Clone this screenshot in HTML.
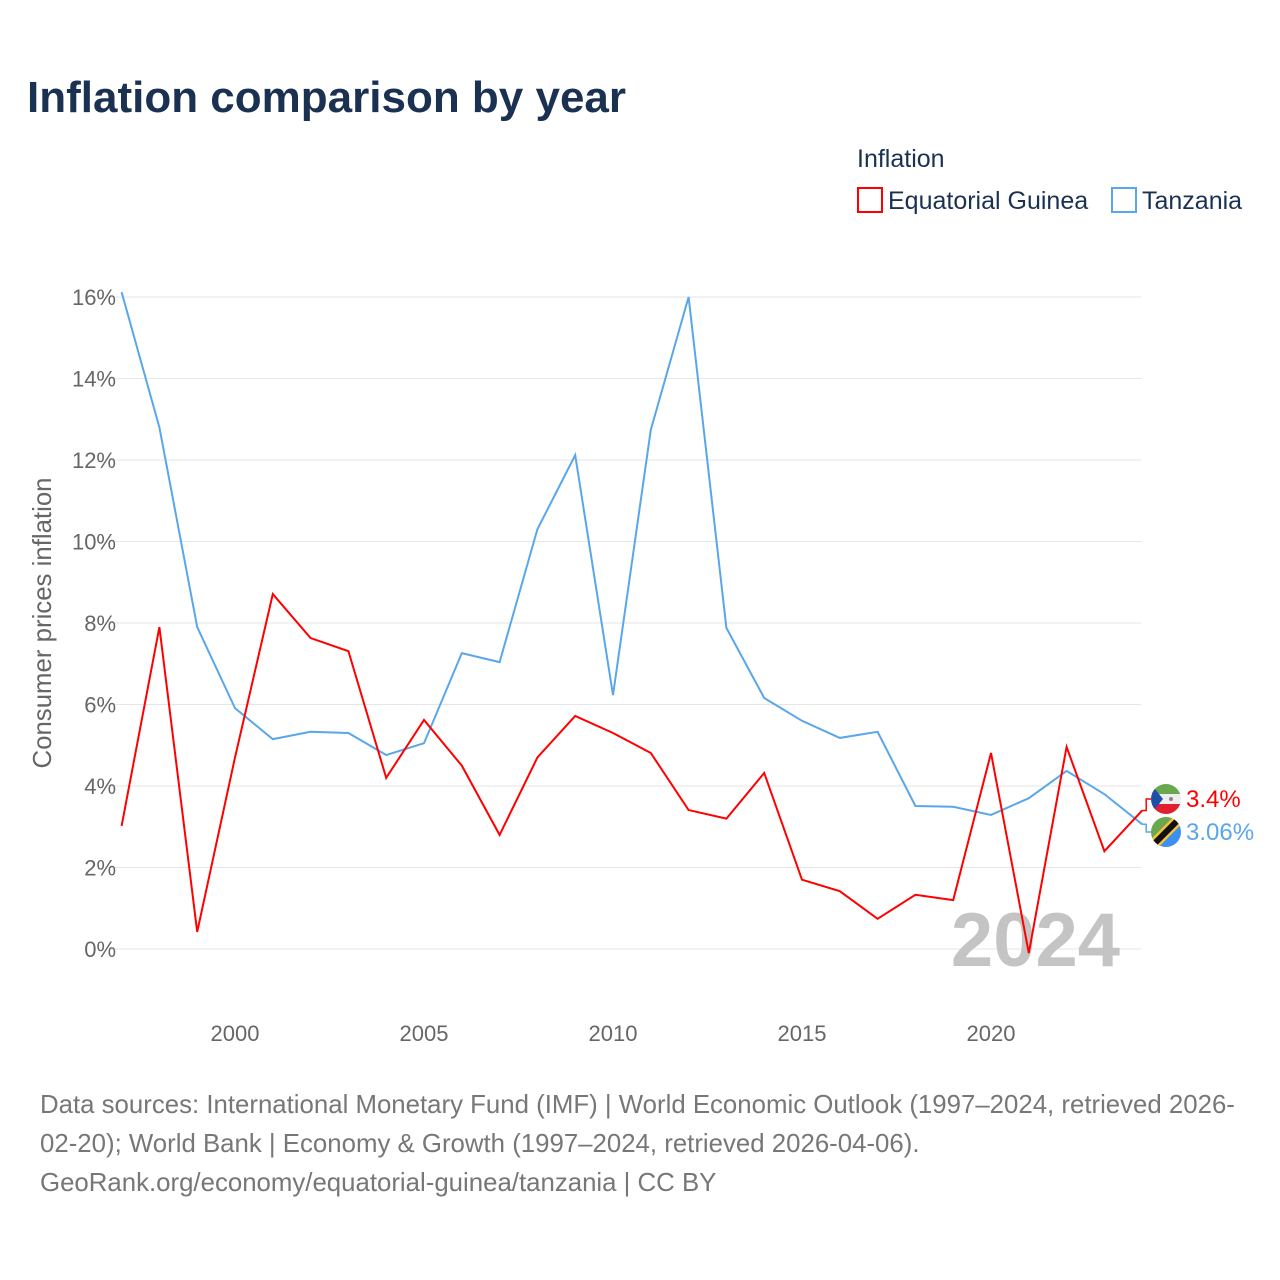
<!DOCTYPE html>
<html><head><meta charset="utf-8">
<style>
body{margin:0;background:#fff;font-family:"Liberation Sans",sans-serif;}
#wrap{position:relative;width:1280px;height:1280px;overflow:hidden;}
</style></head>
<body>
<div id="wrap">
<svg id="chart" width="1280" height="1280" style="position:absolute;left:0;top:0">
  <text x="27" y="112" font-size="44" font-weight="bold" fill="#1b3152">Inflation comparison by year</text>
  <text x="857" y="167" font-size="25" fill="#1b3152">Inflation</text>
  <g>
    <rect x="858" y="188" width="24" height="24" fill="#fff" stroke="#f00" stroke-width="2"/>
    <text x="888" y="209" font-size="25" fill="#1b3152">Equatorial Guinea</text>
  </g>
  <g>
    <rect x="1112" y="188" width="24" height="24" fill="#fff" stroke="#5aa6ea" stroke-width="2"/>
    <text x="1142" y="209" font-size="25" fill="#1b3152">Tanzania</text>
  </g>
  <text transform="translate(51,623) rotate(-90)" text-anchor="middle" font-size="25.8" fill="#666">Consumer prices inflation</text>
  <g id="grid"></g>
  <g id="xticks"></g>
  <text x="1120" y="966" text-anchor="end" font-size="76" font-weight="bold" fill="#c4c4c4">2024</text>
  <g id="series"></g>
  <g id="endlabels"></g>
  <text x="40" y="1113" font-size="25.8" fill="#777">Data sources: International Monetary Fund (IMF) | World Economic Outlook (1997–2024, retrieved 2026-</text>
  <text x="40" y="1152" font-size="25.8" fill="#777">02-20); World Bank | Economy &amp; Growth (1997–2024, retrieved 2026-04-06).</text>
  <text x="40" y="1191" font-size="25.8" fill="#777">GeoRank.org/economy/equatorial-guinea/tanzania | CC BY</text>
</svg>
</div>
<script>
const years = [1997,1998,1999,2000,2001,2002,2003,2004,2005,2006,2007,2008,2009,2010,2011,2012,2013,2014,2015,2016,2017,2018,2019,2020,2021,2022,2023,2024];
const guineaValues = [3.02,7.9,0.42,4.7,8.71,7.63,7.31,4.2,5.62,4.5,2.8,4.7,5.72,5.3,4.81,3.41,3.2,4.32,1.7,1.42,0.74,1.33,1.2,4.81,-0.1,4.96,2.4,3.4];
const tanzaniaValues = [16.12,12.8,7.9,5.91,5.15,5.33,5.3,4.76,5.05,7.26,7.04,10.3,12.12,6.23,12.74,16.0,7.88,6.16,5.6,5.18,5.33,3.51,3.49,3.29,3.7,4.37,3.8,3.06];
const yTicks = [0,2,4,6,8,10,12,14,16];
const xTicks = [2000,2005,2010,2015,2020];

const NS = "http://www.w3.org/2000/svg";
function x(yr){ return 121.6 + (yr-1997)*37.8; }
function y(v){ return 949 - v*40.75; }
function mk(tag, attrs, parent){ const e=document.createElementNS(NS,tag); for(const k in attrs) e.setAttribute(k,attrs[k]); parent.appendChild(e); return e; }

const grid=document.getElementById('grid');
yTicks.forEach(t=>{
  const l=mk('line',{x1:110,x2:1141,y1:y(t),y2:y(t),stroke:'#e6e6e6','stroke-width':1},grid);
  
  
  const tx=mk('text',{x:116,y:y(t)+8,'text-anchor':'end','font-size':22,fill:'#666'},grid);
  tx.textContent=t+'%';
  
  
});
const xt=document.getElementById('xticks');
xTicks.forEach(t=>{
  const tx=mk('text',{x:x(t),y:1041,'text-anchor':'middle','font-size':22,fill:'#666'},xt);
  tx.textContent=t;
  
  
});
const sg=document.getElementById('series');
function line(vals,color,name){
  const p=mk('polyline',{points:vals.map((v,i)=>x(years[i])+','+y(v)).join(' '),fill:'none',stroke:color,'stroke-width':2,'stroke-linejoin':'miter'},sg);
  
  
}
line(tanzaniaValues,'#5aa6ea','tanzania-line');
line(guineaValues,'#f00','equatorial-guinea-line');

const el=document.getElementById('endlabels');
const lx=x(2024);
const gv=guineaValues[guineaValues.length-1], tv=tanzaniaValues[tanzaniaValues.length-1];
mk('polyline',{points:`${lx},${y(gv)} ${lx+4},${y(gv)} ${lx+4},799 ${lx+12},799`,fill:'none',stroke:'#f00','stroke-width':1.5},el);
mk('polyline',{points:`${lx},${y(tv)} ${lx+4},${y(tv)} ${lx+4},832 ${lx+12},832`,fill:'none',stroke:'#5aa6ea','stroke-width':1.5},el);
const defs=mk('defs',{},el);
const c1=mk('clipPath',{id:'cEG'},defs); mk('circle',{cx:1166,cy:799,r:15},c1);
const c2=mk('clipPath',{id:'cTZ'},defs); mk('circle',{cx:1166,cy:832,r:15},c2);
const eg=mk('g',{'clip-path':'url(#cEG)'},el);


mk('rect',{x:1151,y:784,width:30,height:10,fill:'#6aa84f'},eg);
mk('rect',{x:1151,y:794,width:30,height:10,fill:'#eee'},eg);
mk('rect',{x:1151,y:804,width:30,height:10,fill:'#e0202e'},eg);
mk('polygon',{points:'1151,784 1163,799 1151,814',fill:'#1e4fa8'},eg);
mk('circle',{cx:1171,cy:799,r:2,fill:'#888'},eg);
const tz=mk('g',{'clip-path':'url(#cTZ)'},el);


mk('polygon',{points:'1151,817 1181,817 1151,847',fill:'#6aa84f'},tz);
mk('polygon',{points:'1181,817 1181,847 1151,847',fill:'#3b8ff0'},tz);
mk('line',{x1:1151,y1:847,x2:1181,y2:817,stroke:'#f6c23a','stroke-width':11},tz);
mk('line',{x1:1151,y1:847,x2:1181,y2:817,stroke:'#111','stroke-width':6},tz);
const t1=mk('text',{x:1186,y:807,'font-size':24,fill:'#f00'},el); t1.textContent=gv+'%';


const t2=mk('text',{x:1186,y:840,'font-size':24,fill:'#5aa6ea'},el); t2.textContent=tv+'%';


</script>
</body></html>
